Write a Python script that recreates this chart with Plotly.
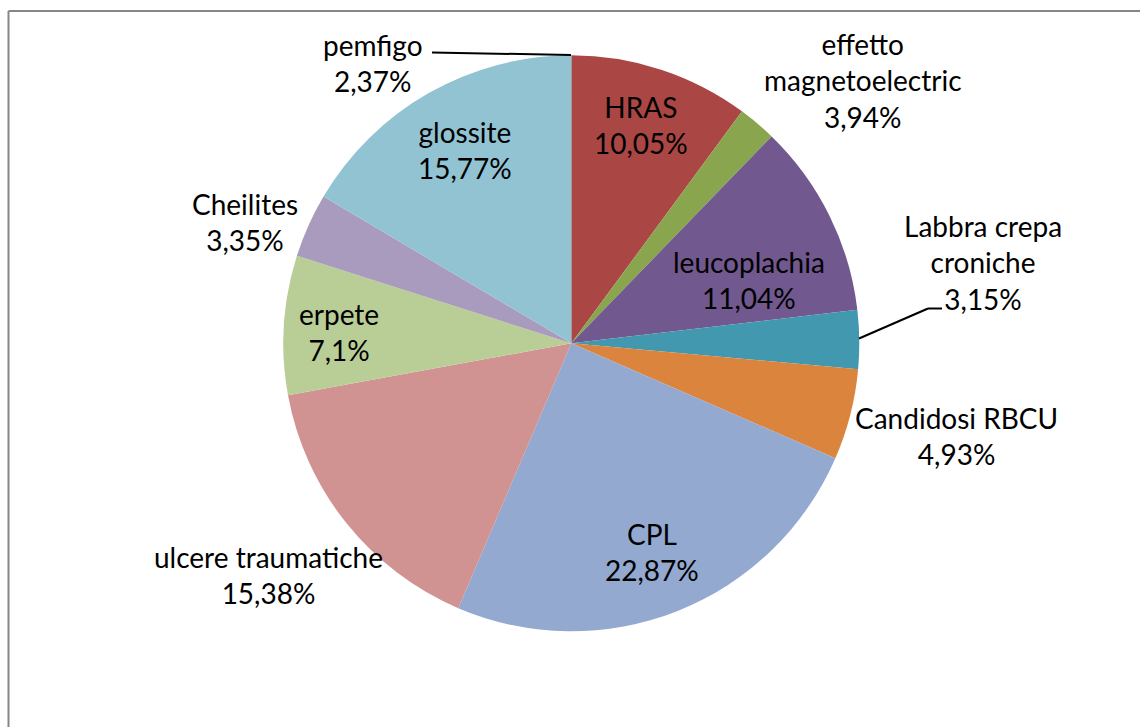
import plotly.graph_objects as go

# Categories, clockwise from 12 o'clock
categories = ["HRAS", "effetto magnetoelectric", "leucoplachia", "Labbra crepa croniche",
              "Candidosi RBCU", "CPL", "ulcere traumatiche", "erpete", "Cheilites",
              "glossite", "pemfigo"]
# Slice sizes (share of the circle, %)
slice_values = [10.1, 2.15, 10.9, 3.3, 5.1, 24.9, 15.7, 7.8, 3.6, 16.5, 0.0]
# Percentages printed on the data labels
label_pcts = ["10,05%", "3,94%", "11,04%", "3,15%", "4,93%", "22,87%", "15,38%",
              "7,1%", "3,35%", "15,77%", "2,37%"]
label_names = ["HRAS", "effetto<br>magnetoelectric", "leucoplachia", "Labbra crepa<br>croniche",
               "Candidosi RBCU", "CPL", "ulcere traumatiche", "erpete", "Cheilites",
               "glossite", "pemfigo"]
colors = ["#AA4643", "#89A54E", "#71588F", "#4198AF", "#DB843D", "#93A9CF",
          "#D19392", "#B9CD96", "#A99BBD", "#92C3D3", "#4572A7"]

W, H = 1140, 727
cx, cy, r = 571.3, 343.3, 288

fig = go.Figure(go.Pie(
    labels=categories, values=slice_values, sort=False, direction="clockwise",
    rotation=0, textinfo="none", hoverinfo="label+percent",
    marker=dict(colors=colors, line=dict(width=0)),
    domain=dict(x=[(cx - r) / W, (cx + r) / W], y=[(H - cy - r) / H, (H - cy + r) / H]),
    showlegend=False,
))

# label anchor positions in pixels (center of text block)
label_pos = {
    "HRAS": (641, 125),
    "effetto magnetoelectric": (863, 81),
    "leucoplachia": (749, 280),
    "Labbra crepa croniche": (983, 262),
    "Candidosi RBCU": (957, 436),
    "CPL": (652, 552),
    "ulcere traumatiche": (268, 575),
    "erpete": (339, 332),
    "Cheilites": (245, 222),
    "glossite": (465, 150),
    "pemfigo": (373, 63),
}

annotations = []
for cat, name, pct in zip(categories, label_names, label_pcts):
    px, py = label_pos[cat]
    annotations.append(dict(
        x=px / W, y=1 - py / H, xref="paper", yref="paper", text=name + "<br>" + pct,
        showarrow=False, align="center", xanchor="center", yanchor="middle",
        font=dict(family="Lato, Carlito, Calibri, sans-serif", size=28, color="#000000"),
    ))

def line(x0, y0, x1, y1, color="#000000"):
    return dict(type="line", xref="paper", yref="paper",
                x0=x0 / W, y0=1 - y0 / H, x1=x1 / W, y1=1 - y1 / H,
                line=dict(color=color, width=2))

shapes = [
    # chart area border (top and left edges visible)
    line(8.5, 11, W + 10, 11, "#868686"),
    line(8.5, 11, 8.5, H + 10, "#868686"),
    # leader lines
    line(432, 52.5, 571, 55),
    line(859, 338.5, 928, 308.5),
    line(928, 308.5, 942, 308.5),
]

fig.update_layout(
    width=W, height=H, margin=dict(l=0, r=0, t=0, b=0),
    paper_bgcolor="white", plot_bgcolor="white",
    annotations=annotations, shapes=shapes,
)

fig.write_html("out.html", config={"displayModeBar": False},
               post_script="document.body.style.margin='0px';document.body.style.overflow='hidden';")
